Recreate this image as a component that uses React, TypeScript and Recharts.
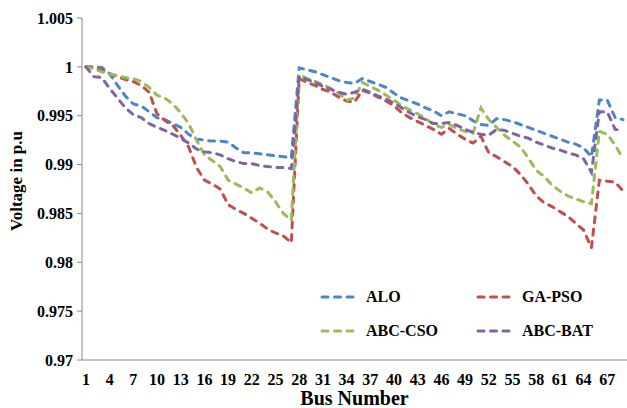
import { LineChart, Line, XAxis, YAxis } from "recharts"

const buses = [
  1, 2, 3, 4, 5, 6, 7, 8, 9, 10, 11, 12, 13, 14, 15, 16, 17, 18, 19, 20, 21, 22, 23,
  24, 25, 26, 27, 28, 29, 30, 31, 32, 33, 34, 35, 36, 37, 38, 39, 40, 41, 42, 43, 44,
  45, 46, 47, 48, 49, 50, 51, 52, 53, 54, 55, 56, 57, 58, 59, 60, 61, 62, 63, 64, 65,
  66, 67, 68, 69,
]

const alo = [
  1.0, 1.0, 0.99995, 0.9993, 0.9981, 0.997, 0.9962, 0.996, 0.9954, 0.9948, 0.9946,
  0.9942, 0.9938, 0.9931, 0.9926, 0.9925, 0.9924, 0.9924, 0.9923, 0.9917, 0.9912,
  0.9912, 0.9911, 0.991, 0.9909, 0.9908, 0.9907, 0.9999, 0.9997, 0.9995, 0.9992,
  0.9989, 0.9986, 0.9984, 0.9983, 0.9988, 0.9985, 0.9982, 0.9979, 0.9973, 0.9968,
  0.9965, 0.9962, 0.9958, 0.9955, 0.995, 0.9954, 0.9952, 0.995, 0.9945, 0.9941,
  0.994, 0.9947, 0.9946, 0.9944, 0.9941, 0.9938, 0.9935, 0.9932, 0.9929, 0.9926,
  0.9923, 0.9921, 0.9917, 0.9908, 0.9966, 0.9966, 0.9948, 0.9946,
]

const gaPso = [
  1.0, 0.9999, 0.9997, 0.9993, 0.999, 0.9987, 0.9985, 0.9981, 0.9974, 0.9952, 0.9945,
  0.994, 0.993, 0.9918, 0.9897, 0.9884, 0.988, 0.9875, 0.9859, 0.9854, 0.985, 0.9845,
  0.984, 0.9834, 0.983, 0.9827, 0.982, 0.9988, 0.9984, 0.9981, 0.9977, 0.9974, 0.9969,
  0.9965, 0.9964, 0.9976, 0.9973, 0.9969, 0.9965, 0.996, 0.9953, 0.9948, 0.9944,
  0.994, 0.9936, 0.9931, 0.9937, 0.9931, 0.9926, 0.9922, 0.9929, 0.9912, 0.9908,
  0.9903, 0.9898, 0.989, 0.988, 0.9868, 0.9861, 0.9857, 0.9852, 0.9847, 0.984, 0.9833,
  0.9815, 0.9884, 0.9883, 0.9882, 0.9873,
]

const abcCso = [
  1.0, 0.9998, 0.9995, 0.9993, 0.9991, 0.9989, 0.9988, 0.9985, 0.9979, 0.9971, 0.9968,
  0.9962, 0.9953, 0.9942, 0.9925, 0.991, 0.9904, 0.9898, 0.9884, 0.988, 0.9876, 0.9871,
  0.9876, 0.9872, 0.9862, 0.985, 0.9843, 0.9992, 0.9988, 0.9985, 0.9982, 0.9978,
  0.9973, 0.9966, 0.9968, 0.9984, 0.998, 0.9976, 0.9971, 0.9966, 0.996, 0.9956, 0.9952,
  0.9947, 0.9941, 0.9938, 0.9941, 0.9937, 0.9934, 0.9932, 0.9958, 0.9946, 0.9938,
  0.993, 0.9924, 0.9918, 0.9907, 0.9894, 0.9888, 0.9879, 0.9873, 0.9868, 0.9865,
  0.9862, 0.986, 0.9934, 0.9931, 0.992, 0.9906,
]

const abcBat = [
  1.0, 0.999, 0.9989, 0.9978, 0.9968, 0.9958, 0.9951, 0.9948, 0.9942, 0.9938, 0.9935,
  0.9931, 0.9927, 0.9922, 0.9916, 0.9913, 0.9912, 0.991, 0.9906, 0.9903, 0.9901,
  0.9901, 0.9899, 0.9898, 0.9897, 0.9897, 0.9896, 0.999, 0.9987, 0.9984, 0.998, 0.9977,
  0.9974, 0.9972, 0.9974, 0.9977, 0.9974, 0.997, 0.9967, 0.9963, 0.9958, 0.9953,
  0.9949, 0.9946, 0.9942, 0.9942, 0.9943, 0.994, 0.9936, 0.9933, 0.9931, 0.993, 0.9936,
  0.9935, 0.9932, 0.9929, 0.9927, 0.9923, 0.992, 0.9917, 0.9915, 0.9912, 0.991, 0.9906,
  0.9892, 0.9954, 0.9954, 0.9936, 0.9935,
]

const xTicks = [1, 4, 7, 10, 13, 16, 19, 22, 25, 28, 31, 34, 37, 40, 43, 46, 49, 52, 55, 58, 61, 64, 67]
const yTicks = [0.97, 0.975, 0.98, 0.985, 0.99, 0.995, 1, 1.005]

const series = [
  { key: "alo", name: "ALO", color: "#4a86c8" },
  { key: "gaPso", name: "GA-PSO", color: "#c0504d" },
  { key: "abcCso", name: "ABC-CSO", color: "#9bbb59" },
  { key: "abcBat", name: "ABC-BAT", color: "#8064a2" },
]

const data = buses.map((bus, i) => ({
  bus,
  alo: alo[i],
  gaPso: gaPso[i],
  abcCso: abcCso[i],
  abcBat: abcBat[i],
}))

// minor ticks sit between the categories, like Excel does it
const minorTicks = buses.map((b) => b - 0.5).concat([buses[buses.length - 1] + 0.5])

const font = "'Liberation Serif', 'Times New Roman', serif"
const dash = "6 6.5"

const LegendBox = () => (
  <div
    style={{
      position: "absolute",
      left: 320,
      top: 287,
      display: "grid",
      gridTemplateColumns: "156px 120px",
      rowGap: 14,
      fontFamily: font,
      fontWeight: "bold",
      fontSize: 16,
      color: "#000",
      whiteSpace: "nowrap",
    }}
  >
    {series.map((s) => (
      <div key={s.key} style={{ display: "flex", alignItems: "center", height: 20 }}>
        <svg width={38} height={6} style={{ marginRight: 8 }}>
          <line
            x1={2}
            y1={3}
            x2={36}
            y2={3}
            stroke={s.color}
            strokeWidth={3}
            strokeDasharray={dash}
            strokeLinecap="round"
          />
        </svg>
        {s.name}
      </div>
    ))}
  </div>
)

export default function App() {
  return (
    <div style={{ position: "absolute", left: 0, top: 0, width: 627, height: 408, background: "#fff" }}>
      <LineChart width={627} height={408} data={data} margin={{ top: 18, right: 0, left: 0, bottom: 0 }}>
        <XAxis
          type="number"
          dataKey="bus"
          domain={[0.5, 69.5]}
          ticks={minorTicks}
          tick={false}
          tickSize={4}
          height={5}
          axisLine={{ stroke: "#888" }}
          tickLine={{ stroke: "#888" }}
        />
        <XAxis
          xAxisId="labels"
          type="number"
          dataKey="bus"
          domain={[0.5, 69.5]}
          ticks={xTicks}
          interval={0}
          tickLine={false}
          axisLine={false}
          tickSize={0}
          tickMargin={9}
          height={43}
          tick={{ fill: "#000", fontSize: 16, fontWeight: "bold", fontFamily: font }}
          label={{
            value: "Bus Number",
            position: "insideBottom",
            offset: 3,
            style: { fill: "#000", fontSize: 20, fontWeight: "bold", fontFamily: font },
          }}
        />
        <YAxis
          domain={[0.97, 1.005]}
          ticks={yTicks}
          interval={0}
          width={82}
          tickSize={5}
          tickMargin={4}
          axisLine={{ stroke: "#888" }}
          tickLine={{ stroke: "#888" }}
          tickFormatter={(v: number) => String(Number(v.toFixed(3)))}
          tick={{ fill: "#000", fontSize: 16, fontWeight: "bold", fontFamily: font }}
          label={{
            value: "Voltage in p.u",
            angle: -90,
            position: "insideLeft",
            offset: 16,
            dy: -8,
            style: { fill: "#000", fontSize: 17, fontWeight: "bold", fontFamily: font, textAnchor: "middle" },
          }}
        />
        {series.map((s) => (
          <Line
            key={s.key}
            dataKey={s.key}
            name={s.name}
            type="linear"
            stroke={s.color}
            strokeWidth={3}
            strokeDasharray={dash}
            strokeLinecap="round"
            dot={false}
            activeDot={false}
            isAnimationActive={false}
          />
        ))}
      </LineChart>
      <LegendBox />
    </div>
  )
}
